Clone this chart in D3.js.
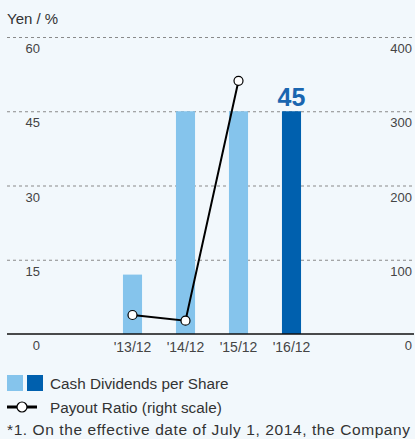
<!DOCTYPE html>
<html>
<head>
<meta charset="utf-8">
<script src="https://cdn.jsdelivr.net/npm/d3@7"></script>
<style>
  html, body { margin: 0; padding: 0; background: #f2f8fc; }
  svg { display: block; font-family: "Liberation Sans", Arial, sans-serif; }
</style>
</head>
<body>
<div id="chart"></div>
<script>
// chart values
const years = ["'13/12", "'14/12", "'15/12", "'16/12"]
const dividends = [12, 45, 45, 45]          // yen, left scale
const payoutRatio = [25.6, 17.9, 341]       // %, right scale ('16/12 not shown)
const leftTicks = [0, 15, 30, 45, 60]
const rightTicks = [0, 100, 200, 300, 400]

const width = 415, height = 439
const backgroundColor = '#f2f8fc'
const lightBlue = '#85c4ec'
const darkBlue = '#0060ae'

const svg = d3.select('#chart')
    .append('svg')
    .attr('width', width)
    .attr('height', height)
    .style('background', backgroundColor)

let x = d3.scaleBand().domain(years).range([106, 318]).paddingInner(0.64).paddingOuter(0.32)
let yL = d3.scaleLinear().domain([0, 60]).range([334, 37])
let yR = d3.scaleLinear().domain([0, 400]).range([334, 37])

// unit label
svg.append('text')
    .attr('x', 7).attr('y', 24)
    .attr('font-size', 15).attr('fill', '#333')
    .text('Yen / %')

// gridlines
svg.append('g')
    .selectAll('line')
    .data(leftTicks.filter(d => d > 0))
    .enter()
    .append('line')
    .attr('x1', 7).attr('x2', 414)
    .attr('y1', d => yL(d) + 0.5).attr('y2', d => yL(d) + 0.5)
    .attr('stroke', '#8a8a8a')
    .attr('stroke-width', 1)
    .attr('stroke-dasharray', '3,3')

// left tick labels
svg.append('g')
    .selectAll('text')
    .data(leftTicks)
    .enter()
    .append('text')
    .attr('x', 40)
    .attr('y', d => yL(d) + 16)
    .attr('text-anchor', 'end')
    .attr('font-size', 13).attr('fill', '#444')
    .text(d => d)

// right tick labels
svg.append('g')
    .selectAll('text')
    .data(rightTicks)
    .enter()
    .append('text')
    .attr('x', 412)
    .attr('y', d => yR(d) + 16)
    .attr('text-anchor', 'end')
    .attr('font-size', 13).attr('fill', '#444')
    .text(d => d)

// bars
svg.append('g')
    .selectAll('rect')
    .data(dividends)
    .enter()
    .append('rect')
    .attr('x', (d, i) => x(years[i]))
    .attr('y', d => yL(d))
    .attr('width', x.bandwidth())
    .attr('height', d => yL(0) - yL(d))
    .attr('fill', (d, i) => i === years.length - 1 ? darkBlue : lightBlue)

// highlighted value label
svg.append('text')
    .attr('x', x(years[3]) + x.bandwidth() / 2)
    .attr('y', yL(dividends[3]) - 5)
    .attr('text-anchor', 'middle')
    .attr('font-size', 25)
    .attr('font-weight', 'bold')
    .attr('fill', '#1a66b0')
    .text(dividends[3])

// baseline
svg.append('line')
    .attr('x1', 7).attr('x2', 414)
    .attr('y1', yL(0)).attr('y2', yL(0))
    .attr('stroke', '#111').attr('stroke-width', 1.5)

// x labels
svg.append('g')
    .selectAll('text')
    .data(years)
    .enter()
    .append('text')
    .attr('x', d => x(d) + x.bandwidth() / 2)
    .attr('y', 352)
    .attr('text-anchor', 'middle')
    .attr('font-size', 14).attr('fill', '#444')
    .text(d => d)

// payout ratio line
let lineMaker = d3.line()
    .x((d, i) => x(years[i]) + x.bandwidth() / 2)
    .y(d => yR(d))

svg.append('path')
    .attr('d', lineMaker(payoutRatio))
    .attr('fill', 'none')
    .attr('stroke', '#000')
    .attr('stroke-width', 2)

svg.append('g')
    .selectAll('circle')
    .data(payoutRatio)
    .enter()
    .append('circle')
    .attr('cx', (d, i) => x(years[i]) + x.bandwidth() / 2)
    .attr('cy', d => yR(d))
    .attr('r', 4.5)
    .attr('fill', '#fff')
    .attr('stroke', '#000')
    .attr('stroke-width', 1.2)

// legend
let legend = svg.append('g')
legend.append('rect').attr('x', 7).attr('y', 375).attr('width', 16).attr('height', 16).attr('fill', lightBlue)
legend.append('rect').attr('x', 27).attr('y', 375).attr('width', 16).attr('height', 16).attr('fill', darkBlue)
legend.append('text')
    .attr('x', 50).attr('y', 389)
    .attr('font-size', 15.3).attr('fill', '#333')
    .text('Cash Dividends per Share')

legend.append('line')
    .attr('x1', 7).attr('x2', 37).attr('y1', 407).attr('y2', 407)
    .attr('stroke', '#000').attr('stroke-width', 3)
legend.append('circle')
    .attr('cx', 22).attr('cy', 407).attr('r', 5)
    .attr('fill', '#fff').attr('stroke', '#000').attr('stroke-width', 1.2)
legend.append('text')
    .attr('x', 50).attr('y', 413)
    .attr('font-size', 15.3).attr('fill', '#333')
    .text('Payout Ratio (right scale)')

// footnote (cut off at bottom of frame)
svg.append('text')
    .attr('x', 7).attr('y', 435)
    .attr('font-size', 15.5).attr('fill', '#333')
    .attr('textLength', 403)
    .attr('lengthAdjust', 'spacing')
    .text('*1. On the effective date of July 1, 2014, the Company')
</script>
</body>
</html>
